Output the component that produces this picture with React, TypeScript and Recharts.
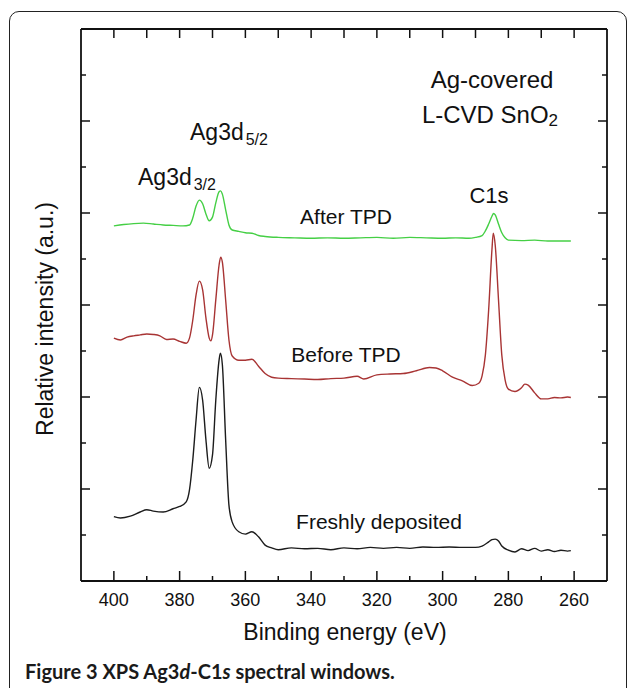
import React from 'react';
import { LineChart, Line, XAxis, YAxis } from 'recharts';

// binding energy (eV) and relative intensity (a.u.)
const freshEnergy = [400, 398, 395, 392, 390, 388, 385, 382, 380, 378, 377, 376, 375, 374, 373, 372, 371, 370, 369, 368, 367.6, 367, 366, 365, 364, 362, 360, 358, 356, 354, 352, 350, 346, 342, 338, 334, 330, 326, 322, 318, 314, 310, 306, 302, 298, 294, 290, 288, 286, 285, 284, 283, 282, 280, 278, 276, 274, 272, 270, 268, 266, 264, 262, 261];
const freshIntensity = [1.40, 1.37, 1.41, 1.50, 1.55, 1.52, 1.50, 1.57, 1.62, 1.72, 1.98, 2.63, 3.50, 4.21, 3.93, 3.07, 2.45, 2.74, 3.93, 4.80, 4.95, 4.70, 3.07, 1.65, 1.28, 1.07, 1.02, 1.07, 0.96, 0.78, 0.72, 0.68, 0.72, 0.70, 0.71, 0.68, 0.72, 0.70, 0.73, 0.71, 0.73, 0.71, 0.74, 0.73, 0.74, 0.73, 0.73, 0.76, 0.85, 0.90, 0.91, 0.87, 0.76, 0.67, 0.63, 0.70, 0.66, 0.71, 0.65, 0.68, 0.64, 0.67, 0.65, 0.66];

const beforeEnergy = [400, 398, 396, 394, 392, 390, 388, 386, 384, 382, 380, 378, 377, 376, 375, 374, 373, 372, 371, 370.5, 370, 369, 368, 367.5, 367, 366, 365, 364, 362, 360, 358, 356, 354, 352, 350, 346, 342, 338, 334, 330, 326, 324, 320, 316, 312, 308, 304, 302, 300, 297, 294, 291, 289, 288, 287, 286, 285, 284.6, 284, 283, 282, 281, 280, 278, 276, 275, 274, 272, 270, 268, 266, 264, 262, 261];
const beforeIntensity = [5.28, 5.24, 5.30, 5.33, 5.35, 5.37, 5.36, 5.33, 5.25, 5.26, 5.21, 5.17, 5.28, 5.67, 6.22, 6.52, 6.33, 5.72, 5.28, 5.22, 5.35, 6.11, 6.87, 7.04, 6.93, 6.11, 5.24, 4.89, 4.80, 4.80, 4.82, 4.67, 4.51, 4.43, 4.41, 4.40, 4.39, 4.38, 4.40, 4.41, 4.45, 4.39, 4.48, 4.50, 4.51, 4.57, 4.64, 4.63, 4.57, 4.43, 4.35, 4.25, 4.30, 4.46, 4.91, 5.89, 7.20, 7.56, 7.30, 6.11, 4.91, 4.37, 4.17, 4.12, 4.20, 4.28, 4.26, 4.09, 3.96, 3.96, 3.99, 3.98, 4.00, 3.99];

const afterEnergy = [400, 397, 394, 391, 388, 385, 382, 379, 377, 376, 375, 374, 373, 372, 371, 370, 369, 368, 367.5, 367, 366, 365, 364, 362, 360, 358, 356, 354, 350, 345, 340, 335, 330, 325, 320, 315, 310, 305, 300, 296, 292, 290, 288, 287, 286, 285, 284.5, 284, 283, 282, 281, 280, 276, 272, 268, 264, 261];
const afterIntensity = [7.72, 7.75, 7.77, 7.78, 7.76, 7.74, 7.73, 7.72, 7.74, 7.89, 8.15, 8.28, 8.20, 7.98, 7.83, 7.91, 8.22, 8.46, 8.48, 8.41, 8.07, 7.74, 7.63, 7.60, 7.57, 7.56, 7.51, 7.49, 7.47, 7.46, 7.45, 7.46, 7.45, 7.46, 7.47, 7.45, 7.47, 7.46, 7.45, 7.46, 7.45, 7.47, 7.51, 7.61, 7.76, 7.93, 7.99, 7.96, 7.76, 7.57, 7.46, 7.41, 7.40, 7.41, 7.39, 7.39, 7.39];

const energyTicks = [400, 390, 380, 370, 360, 350, 340, 330, 320, 310, 300, 290, 280, 270, 260];
const intensityTicks = [0, 1, 2, 3, 4, 5, 6, 7, 8, 9, 10, 11, 12];

const toPoints = (xs: number[], ys: number[]) => xs.map((x, i) => ({ x, y: ys[i] }));
const freshData = toPoints(freshEnergy, freshIntensity);
const beforeData = toPoints(beforeEnergy, beforeIntensity);
const afterData = toPoints(afterEnergy, afterIntensity);

const FONT = '"Liberation Sans", Arial, Helvetica, sans-serif';

const BottomTick = ({ x, y, payload }: any) => {
  const major = payload.value % 20 === 0;
  return (
    <g>
      <line x1={x} x2={x} y1={y} y2={y - (major ? 10 : 5)} stroke="#111" strokeWidth={1.5} />
      {major && (
        <text x={x} y={y + 25} textAnchor="middle" fontSize={18} fontFamily={FONT} fill="#111">
          {payload.value}
        </text>
      )}
    </g>
  );
};

const TopTick = ({ x, y }: any) => (
  <line x1={x} x2={x} y1={y} y2={y + 9} stroke="#111" strokeWidth={1.5} />
);

const LeftTick = ({ x, y, payload }: any) => {
  const major = payload.value % 2 === 0;
  return <line x1={x} x2={x + (major ? 9 : 5)} y1={y} y2={y} stroke="#111" strokeWidth={1.5} />;
};

const RightTick = ({ x, y, payload }: any) => {
  const major = payload.value % 2 === 0;
  return <line x1={x} x2={x - (major ? 9 : 5)} y1={y} y2={y} stroke="#111" strokeWidth={1.5} />;
};

const axisLine = { stroke: '#111', strokeWidth: 1.8 };

const App: React.FC = () => {
  return (
    <div style={{ position: 'absolute', left: 0, top: 0, width: 629, height: 688, background: '#fff', overflow: 'hidden' }}>
      <div
        style={{
          position: 'absolute',
          left: 9,
          top: 11,
          width: 616,
          height: 690,
          border: '1.5px solid #222',
          borderRadius: 10,
        }}
      />
      <div style={{ position: 'absolute', left: 0, top: 0 }}>
        <LineChart width={629} height={688} margin={{ top: 28, right: 21, bottom: 106, left: 80 }}>
          <XAxis
            dataKey="x"
            type="number"
            domain={[250, 410]}
            reversed
            ticks={energyTicks}
            interval={0}
            height={1}
            tickSize={0}
            tickMargin={0}
            tickLine={false}
            axisLine={axisLine}
            tick={<BottomTick />}
            allowDataOverflow
          />
          <XAxis
            xAxisId="top"
            orientation="top"
            dataKey="x"
            type="number"
            domain={[250, 410]}
            reversed
            ticks={energyTicks}
            interval={0}
            height={1}
            tickSize={0}
            tickMargin={0}
            tickLine={false}
            axisLine={axisLine}
            tick={<TopTick />}
            allowDataOverflow
          />
          <YAxis
            type="number"
            domain={[0, 12]}
            ticks={intensityTicks}
            interval={0}
            width={1}
            tickSize={0}
            tickMargin={0}
            tickLine={false}
            axisLine={axisLine}
            tick={<LeftTick />}
            allowDataOverflow
          />
          <YAxis
            yAxisId="right"
            orientation="right"
            type="number"
            domain={[0, 12]}
            ticks={intensityTicks}
            interval={0}
            width={1}
            tickSize={0}
            tickMargin={0}
            tickLine={false}
            axisLine={axisLine}
            tick={<RightTick />}
            allowDataOverflow
          />
          <Line data={freshData} dataKey="y" type="monotone" stroke="#1c1c1c" strokeWidth={1.4} dot={false} isAnimationActive={false} />
          <Line data={beforeData} dataKey="y" type="monotone" stroke="#a83434" strokeWidth={1.4} dot={false} isAnimationActive={false} />
          <Line data={afterData} dataKey="y" type="monotone" stroke="#45cf45" strokeWidth={1.4} dot={false} isAnimationActive={false} />
        </LineChart>
      </div>
      <svg width={629} height={688} style={{ position: 'absolute', left: 0, top: 0, pointerEvents: 'none' }}>
        <g fontFamily={FONT} fill="#111">
          <text x={492} y={88} textAnchor="middle" fontSize={24}>Ag-covered</text>
          <text x={490} y={123} textAnchor="middle" fontSize={24}>
            L-CVD SnO<tspan fontSize={17} dy={3}>2</tspan>
          </text>
          <text x={190} y={140} fontSize={23}>
            Ag3d<tspan fontSize={16} dx={2} dy={5}>5/2</tspan>
          </text>
          <text x={138} y={185} fontSize={23}>
            Ag3d<tspan fontSize={16} dx={2} dy={5}>3/2</tspan>
          </text>
          <text x={489} y={203} textAnchor="middle" fontSize={22}>C1s</text>
          <text x={346} y={224} textAnchor="middle" fontSize={21}>After TPD</text>
          <text x={346} y={362} textAnchor="middle" fontSize={21}>Before TPD</text>
          <text x={379} y={529} textAnchor="middle" fontSize={21}>Freshly deposited</text>
          <text x={345} y={640} textAnchor="middle" fontSize={23}>Binding energy (eV)</text>
          <text
            x={45}
            y={319}
            textAnchor="middle"
            dominantBaseline="central"
            fontSize={23}
            transform="rotate(-90, 45, 319)"
          >
            Relative intensity (a.u.)
          </text>
        </g>
        <text x={25} y={679} fontFamily="Lato, 'Open Sans', sans-serif" fontWeight="bold" fontSize={20} fill="#1a1a1a">
          Figure 3 XPS Ag3<tspan fontStyle="italic">d</tspan>-C1<tspan fontStyle="italic">s</tspan> spectral windows.
        </text>
      </svg>
    </div>
  );
};

export default App;
